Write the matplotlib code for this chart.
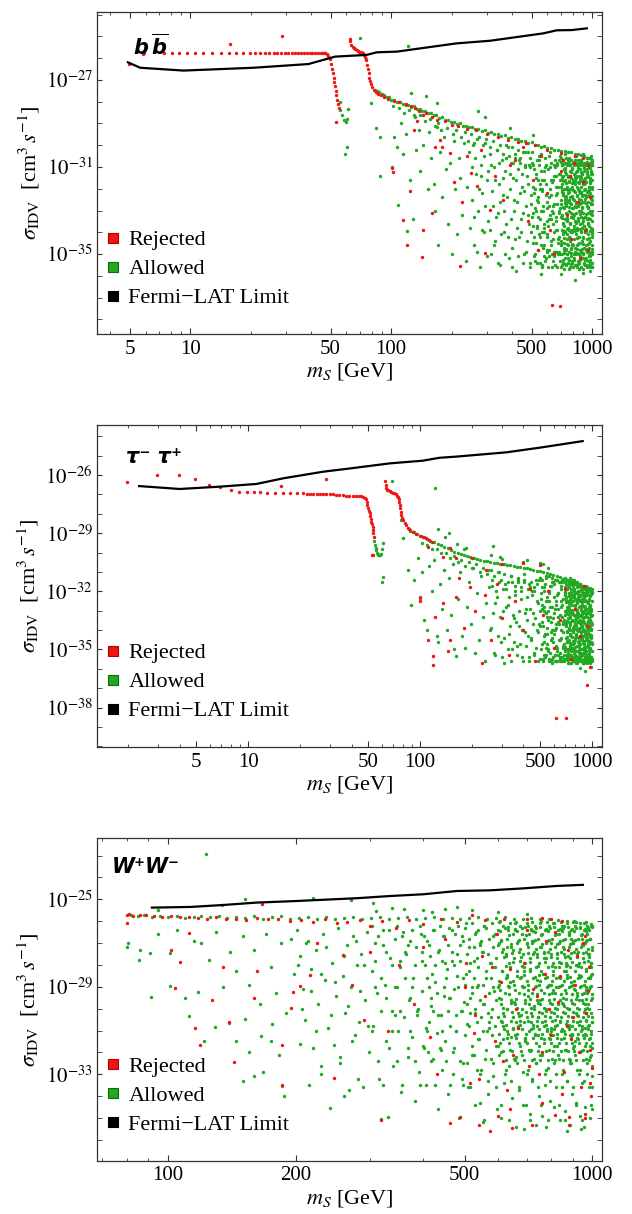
import numpy as np
import matplotlib
matplotlib.use('Agg')
import matplotlib.pyplot as plt
from matplotlib.lines import Line2D
from matplotlib.ticker import NullFormatter

plt.rcParams['font.family'] = ['Liberation Serif', 'DejaVu Serif']
plt.rcParams['mathtext.fontset'] = 'stix'

RED = '#f01414'
GREEN = '#22a822'

# ---------------- b bbar panel (mass in GeV, log10 of sigma v) ----------------
bb_fermi_m = [4.9, 5.64, 9.26, 20.7, 38.8, 52.6, 75.6, 84.9, 106.7, 212, 311, 573, 667, 792, 942]
bb_fermi_e = [-26.19, -26.44, -26.57, -26.44, -26.27, -25.93, -25.85, -25.73, -25.70,
              -25.32, -25.20, -24.86, -24.72, -24.71, -24.63]

bb_rejected = [
    (4.99, -26.28), (5.86, -25.82), (15.8, -25.36), (28.6, -24.97),
    (5.9, -25.75), (7.4, -25.75), (8.1, -25.75), (8.8, -25.75), (9.6, -25.75), (10.6, -25.75),
    (11.6, -25.75), (12.8, -25.75), (14.2, -25.75), (15.6, -25.75), (17.0, -25.75), (18.4, -25.75),
    (19.8, -25.75), (21.0, -25.75), (22.3, -25.75), (23.5, -25.75), (24.8, -25.75), (26.0, -25.75),
    (27.2, -25.75), (28.4, -25.75), (29.6, -25.75), (30.8, -25.75), (32.0, -25.75), (33.2, -25.75),
    (34.4, -25.75), (35.6, -25.75), (36.8, -25.75), (38.0, -25.75), (39.3, -25.75), (40.6, -25.75),
    (42.0, -25.75), (43.4, -25.75), (44.8, -25.75), (46.0, -25.76),
    (47.0, -25.77), (48.0, -25.82), (48.8, -25.92), (49.6, -26.05), (50.3, -26.25), (50.9, -26.5),
    (51.4, -26.7), (51.8, -26.9), (52.1, -27.1), (52.5, -27.3), (52.9, -27.5), (53.4, -27.7),
    (54.0, -27.9), (54.7, -28.1), (55.3, -28.3), (53.4, -28.94),
    (62.5, -25.12), (62.8, -25.22), (63.5, -25.4), (64.5, -25.5), (65.5, -25.55), (66.5, -25.6),
    (67.5, -25.63), (68.5, -25.66), (69.5, -25.7), (70.5, -25.73), (71.5, -25.75), (72.5, -25.78),
    (73.5, -25.85), (74.5, -25.95), (75.3, -26.1), (76.0, -26.3), (76.7, -26.5), (77.3, -26.7),
    (78.0, -26.9), (78.8, -27.05), (79.6, -27.2), (80.6, -27.32), (82.0, -27.45), (84.0, -27.55),
    (86.5, -27.63), (89, -27.7), (92, -27.78), (96, -27.86),
    (103, -27.95), (110, -28.0), (118, -28.1), (125, -28.2), (132, -28.3), (138, -28.45),
    (145, -28.6), (150, -28.5), (160, -28.7), (170, -28.85), (185, -28.9), (200, -29.05),
    (215, -29.1), (240, -29.25), (265, -29.3), (300, -29.5), (340, -29.6), (380, -29.75),
    (430, -29.85), (470, -29.9), (520, -30.0), (600, -30.2), (700, -30.35), (820, -30.5), (900, -30.6),
    (101, -31.05), (102, -31.25), (115, -33.42), (120, -34.57), (124, -32.12), (130, -29.3),
    (135, -28.9), (143, -35.13), (145, -33.88), (159, -33.12), (165, -30.06), (175, -29.75),
    (180, -30.1), (197, -30.36), (205, -31.7), (220, -35.56), (225, -32.6), (240, -30.5),
    (250, -31.28), (267, -31.89), (280, -30.2), (295, -34.95), (311, -32.96), (330, -31.4),
    (362, -32.5), (390, -30.9), (416, -30.67), (455, -30.06), (480, -33.5), (510, -31.6),
    (540, -34.8), (560, -30.5), (600, -32.2), (618, -33.88), (630, -37.32), (690, -37.37),
    (650, -35.0), (700, -31.2), (720, -30.67), (750, -33.2), (777, -31.43), (790, -34.3),
    (810, -30.8), (850, -32.6), (870, -35.2), (900, -31.7), (920, -33.9), (950, -30.9),
    (960, -34.8), (980, -32.4),
]

bb_allowed = [
    (55.6, -28.0), (55.9, -28.4), (57.0, -28.6), (58.5, -28.85), (59.5, -28.95), (60.5, -28.8),
    (61.3, -28.35), (60.3, -30.06), (59.3, -30.4), (70, -25.09), (75, -26.05), (121, -25.43),
    (83, -27.45), (85, -27.52), (87, -27.56), (90, -27.64), (92, -27.68), (95, -27.77), (98, -27.8),
    (100, -27.9), (104, -27.9), (107, -28.0), (111, -28.0), (114, -28.1), (118, -28.14), (122, -28.13),
    (126, -28.23), (130, -28.22), (134, -28.33), (139, -28.33), (143, -28.43), (148, -28.42),
    (153, -28.53), (158, -28.52), (163, -28.63), (168, -28.62), (174, -28.73), (180, -28.72),
    (186, -28.83), (192, -28.82), (199, -28.93), (206, -28.92), (213, -29.03), (220, -29.0),
    (228, -29.1), (236, -29.1), (245, -29.18), (254, -29.17), (263, -29.25), (272, -29.24),
    (282, -29.33), (292, -29.32), (303, -29.43), (315, -29.41), (327, -29.5), (340, -29.5),
    (353, -29.58), (367, -29.55), (382, -29.65), (397, -29.63), (412, -29.73), (428, -29.71),
    (445, -29.8), (462, -29.79), (480, -29.88), (500, -29.87), (520, -29.97), (540, -29.98),
    (560, -30.06), (580, -30.05), (600, -30.12), (625, -30.13), (650, -30.2), (675, -30.2),
    (700, -30.27), (730, -30.26), (760, -30.32), (790, -30.31), (820, -30.39), (850, -30.38),
    (880, -30.47), (910, -30.48), (940, -30.57), (970, -30.58), (990, -30.64),
    (126, -27.6), (149, -27.76), (169, -28.07), (272, -28.45), (295, -28.68), (391, -29.22),
    (510, -29.52), (79.5, -28.07), (84, -29.19), (88, -29.6), (88, -31.43),
    (101, -31.0), (104, -29.6), (107, -30.06), (108, -32.73), (112, -29.0), (115, -30.4),
    (118, -29.5), (120, -33.96), (124, -31.6), (128, -33.4), (130, -28.6), (133, -30.2),
    (137, -29.3), (140, -31.2), (145, -30.0), (152, -32.0), (155, -29.4), (158, -30.6),
    (163, -31.8), (166, -33.0), (169, -29.14), (172, -34.57), (176, -30.3), (180, -32.4),
    (184, -29.6), (188, -31.1), (193, -33.6), (197, -30.8), (201, -35.0), (205, -29.8),
    (209, -32.0), (213, -34.1), (217, -30.6), (221, -31.5), (226, -33.2), (230, -29.9),
    (235, -35.3), (240, -31.9), (244, -30.3), (248, -33.8),
    (252, -32.5), (256, -30.0), (260, -34.6), (264, -31.3), (268, -29.7), (272, -33.0),
    (276, -35.6), (280, -30.9), (285, -32.2), (290, -34.0), (295, -29.9), (300, -31.6),
    (305, -33.5), (310, -30.4), (315, -35.0), (320, -32.8), (325, -31.0), (330, -34.4),
    (335, -30.2), (340, -33.1), (345, -31.8), (350, -35.5), (355, -30.7), (360, -32.3),
    (365, -34.0), (370, -31.2), (375, -33.6), (380, -30.1), (385, -35.2), (390, -32.0),
    (395, -30.8), (400, -34.7), (405, -31.5), (410, -33.0), (415, -30.4), (420, -35.8),
    (425, -32.6), (430, -31.1), (435, -34.2), (440, -30.6), (445, -33.4), (450, -31.9),
    (455, -35.4), (460, -32.1), (465, -30.3), (470, -34.9), (475, -31.4), (480, -33.2),
    (485, -30.9), (490, -35.6), (495, -32.7), (498, -34.0),
    (102, -28.2), (109, -28.3), (116, -28.5), (123, -28.4), (131, -28.7), (140, -28.6),
    (147, -28.9), (156, -28.8), (165, -29.1), (171, -29.0), (178, -29.3), (190, -29.2),
    (203, -29.5), (210, -29.3), (222, -29.6), (232, -29.4), (242, -29.8), (250, -29.5),
    (260, -29.9), (275, -29.6), (288, -30.0), (298, -29.7), (310, -30.1), (322, -29.8),
    (335, -30.2), (348, -30.0), (360, -30.4), (372, -30.0), (386, -30.5), (400, -30.1),
    (414, -30.6), (426, -30.2), (440, -30.8), (452, -30.3), (466, -30.9), (478, -30.3), (490, -31.0),
    (253, -31.0), (258, -33.3), (263, -30.6), (269, -34.9), (274, -32.0), (279, -31.4),
    (284, -33.9), (289, -30.5), (294, -32.8), (299, -35.1), (304, -31.2), (309, -33.9),
    (314, -30.9), (319, -32.1), (324, -34.6), (329, -31.6), (334, -33.3), (339, -35.4),
    (344, -30.8), (349, -32.6), (354, -34.1), (359, -31.5), (364, -33.0), (369, -35.0),
    (374, -30.6), (379, -32.4), (384, -34.2), (389, -31.3), (394, -33.4), (399, -35.6),
    (404, -30.8), (409, -32.5), (414, -34.3), (419, -31.6), (424, -33.8), (429, -35.1),
    (434, -30.7), (439, -32.2), (444, -34.0), (449, -31.3), (454, -33.1), (459, -35.0),
    (464, -31.0), (469, -32.8), (474, -34.4), (479, -31.8), (484, -33.6), (489, -35.4),
    (494, -30.6), (499, -32.3),
    (822, -36.17), (905, -35.87), (560, -35.9), (700, -35.9),
]

bb_allowed_wedge = [
    (505, -30.3), (512, -31.1), (518, -32.0), (523, -32.9), (508, -33.7), (527, -34.5),
    (515, -35.1), (531, -30.7), (536, -31.6), (541, -33.3), (546, -34.1), (538, -32.4),
    (549, -35.4), (556, -30.4), (560, -31.2), (565, -32.1), (569, -33.0), (574, -33.8),
    (578, -34.6), (583, -35.3), (588, -30.9), (592, -31.8), (596, -32.6), (600, -34.2),
    (604, -35.6), (609, -33.4), (615, -30.3), (619, -31.0), (624, -31.6), (628, -32.3),
    (633, -33.0), (638, -33.6), (643, -34.3), (647, -34.9), (652, -35.5), (657, -30.7),
    (661, -31.9), (666, -32.7), (671, -33.9), (676, -35.0), (681, -34.5), (686, -31.3),
    (690, -30.5), (694, -32.9), (699, -33.3), (704, -35.6), (708, -30.9), (713, -31.6),
    (717, -32.2), (722, -33.7), (726, -34.8), (731, -30.4), (736, -31.1), (741, -32.0),
    (745, -32.7), (750, -33.4), (755, -34.1), (760, -35.2), (764, -35.7), (769, -30.6),
    (773, -31.4), (778, -32.4), (783, -33.1), (788, -34.0), (792, -34.6), (797, -35.4),
    (801, -30.8), (806, -31.7), (811, -32.5), (815, -33.2), (820, -33.9), (825, -34.7),
    (829, -35.5), (834, -30.5), (839, -31.2), (843, -31.9), (848, -32.8), (853, -33.5),
    (857, -34.2), (862, -35.0), (866, -35.7), (871, -30.7), (876, -31.5), (880, -32.2),
    (885, -33.0), (890, -33.8), (894, -34.4), (899, -35.2), (903, -30.4), (908, -31.0),
    (913, -31.8), (917, -32.6), (922, -33.3), (927, -34.0), (931, -34.8), (936, -35.5),
    (940, -30.6), (945, -31.3), (950, -32.1), (954, -32.9), (959, -33.6), (964, -34.5),
    (968, -35.1), (972, -35.8), (977, -30.8), (981, -31.6), (986, -32.4), (990, -33.1),
    (995, -33.9), (998, -34.6), (993, -35.4), (985, -30.5), (970, -31.9), (955, -33.4),
    (942, -34.9), (925, -32.3), (910, -33.7), (895, -31.3), (878, -34.9), (860, -32.1),
    (845, -33.8), (828, -31.4), (812, -35.0), (795, -32.9), (780, -30.9), (765, -33.9),
    (748, -35.0), (733, -32.5), (719, -34.0), (702, -31.9), (688, -34.9), (673, -30.9),
    (659, -33.3), (645, -31.4), (630, -35.0), (612, -32.8), (597, -34.8), (580, -31.6),
    (563, -34.0), (545, -30.9), (528, -33.0),
    (999, -30.7), (1000, -31.3), (999, -32.0), (1000, -32.7), (998, -33.5), (1000, -34.2),
    (999, -34.9), (1000, -35.6),
    (502, -30.8), (502, -33.3), (507, -31.9), (507, -34.5), (511, -33.1), (511, -30.9),
    (516, -34.2), (516, -32.2), (521, -35.3), (521, -35.0), (525, -31.3), (525, -31.5),
    (530, -32.5), (530, -33.8), (534, -33.7), (534, -35.4), (539, -34.8), (539, -32.6),
    (544, -30.5), (544, -30.7), (548, -32.0), (548, -34.2), (553, -33.4), (553, -31.8),
    (557, -34.6), (557, -33.0), (562, -35.6), (562, -35.5), (567, -31.6), (567, -32.0),
    (571, -32.8), (571, -34.7), (576, -34.0), (576, -31.2), (580, -35.1), (580, -33.6),
    (585, -31.0), (585, -30.6), (590, -32.3), (590, -35.2), (594, -33.5), (594, -32.9),
    (599, -34.9), (599, -34.1), (604, -33.7), (604, -31.1), (608, -34.8), (608, -32.4),
    (613, -30.5), (613, -35.1), (617, -32.0), (617, -33.2), (622, -33.4), (622, -30.8),
    (627, -34.6), (627, -34.4), (631, -35.6), (631, -31.7), (636, -31.6), (636, -33.1),
    (640, -32.8), (640, -35.3), (645, -34.0), (645, -30.9), (650, -35.1), (650, -32.7),
    (654, -31.0), (654, -34.9), (659, -32.3), (659, -31.4), (663, -33.5), (663, -33.9),
    (668, -34.9), (668, -35.6), (673, -30.8), (673, -32.2), (677, -31.9), (677, -34.3),
    (682, -33.1), (682, -30.7), (686, -34.2), (686, -33.0), (691, -35.3), (691, -35.0),
    (696, -31.3), (696, -31.6), (700, -32.5), (700, -34.6),
    (704, -30.6), (704, -32.7), (704, -34.4), (708, -31.8), (708, -33.9), (708, -35.5),
    (712, -30.9), (712, -33.2), (712, -35.0), (716, -32.3), (716, -34.1), (716, -31.4),
    (720, -33.6), (720, -35.4), (720, -30.7), (724, -31.1), (724, -32.9), (724, -34.7),
    (729, -32.0), (729, -34.5), (729, -35.7), (733, -30.8), (733, -33.4), (733, -31.6),
    (737, -34.0), (737, -32.4), (737, -35.2), (741, -31.3), (741, -33.1), (741, -34.8),
    (746, -30.6), (746, -32.8), (746, -35.5), (750, -31.9), (750, -34.3), (750, -33.5),
    (754, -32.6), (754, -30.9), (754, -35.0), (759, -31.4), (759, -33.8), (759, -34.6),
    (763, -30.7), (763, -32.2), (763, -35.4), (768, -33.0), (768, -34.9), (768, -31.7),
    (772, -32.5), (772, -30.8), (772, -34.2), (777, -31.2), (777, -33.6), (777, -35.6),
    (781, -34.4), (781, -32.0), (781, -30.9), (786, -33.3), (786, -35.1), (786, -31.5),
    (790, -30.7), (790, -32.7), (790, -34.7), (795, -31.9), (795, -33.9), (795, -35.3),
    (799, -32.4), (799, -34.0), (799, -31.1), (804, -30.8), (804, -33.2), (804, -35.6),
    (808, -31.6), (808, -34.6), (808, -32.9), (813, -33.7), (813, -35.2), (813, -30.9),
    (818, -32.1), (818, -31.3), (818, -34.3), (822, -30.7), (822, -33.5), (822, -35.5),
    (827, -31.8), (827, -32.8), (827, -34.9), (832, -33.1), (832, -35.0), (832, -30.8),
    (836, -32.6), (836, -31.5), (836, -34.1), (841, -30.9), (841, -33.9), (841, -35.6),
    (846, -31.2), (846, -32.3), (846, -34.6), (850, -33.4), (850, -35.3), (850, -30.7),
    (855, -32.0), (855, -31.7), (855, -34.2), (860, -30.8), (860, -33.0), (860, -35.4),
    (864, -31.4), (864, -34.5), (864, -32.7), (869, -33.6), (869, -35.1), (869, -30.9),
    (874, -32.2), (874, -31.1), (874, -34.8), (879, -30.7), (879, -33.3), (879, -35.6),
    (883, -31.9), (883, -32.5), (883, -34.0), (888, -33.8), (888, -35.2), (888, -31.3),
    (893, -32.9), (893, -30.8), (893, -34.5), (898, -31.6), (898, -33.5), (898, -35.7),
    (902, -30.9), (902, -32.3), (902, -34.2), (907, -33.1), (907, -35.0), (907, -31.8),
    (912, -32.6), (912, -30.8), (912, -34.7), (917, -31.2), (917, -33.7), (917, -35.4),
    (922, -30.9), (922, -32.0), (922, -34.0), (927, -33.3), (927, -35.5), (927, -31.5),
    (931, -32.4), (931, -30.8), (931, -34.6), (936, -31.7), (936, -33.9), (936, -35.2),
    (941, -30.9), (941, -32.8), (941, -34.3), (946, -33.4), (946, -35.6), (946, -31.1),
    (950, -32.1), (950, -30.9), (950, -34.9), (955, -31.4), (955, -33.1), (955, -35.3),
    (960, -30.9), (960, -32.6), (960, -34.1), (964, -33.7), (964, -35.5), (964, -31.9),
    (969, -32.3), (969, -31.0), (969, -34.7), (973, -31.5), (973, -33.4), (973, -35.6),
    (978, -30.8), (978, -32.2), (978, -34.4), (982, -33.0), (982, -35.1), (982, -31.7),
    (987, -32.7), (987, -31.2), (987, -34.9), (991, -31.3), (991, -33.8), (991, -35.4),
    (995, -30.9), (995, -32.5), (995, -34.1), (999, -33.2), (999, -35.6), (999, -31.6),
    (702, -30.75), (702, -34.55), (706, -31.45), (706, -33.35), (710, -32.15), (710, -32.05),
    (714, -32.85), (714, -30.85), (718, -33.55), (718, -35.25), (722, -34.25), (722, -31.65),
    (727, -34.95), (727, -33.95), (731, -35.45), (731, -32.65), (735, -31.05), (735, -31.25),
    (739, -31.75), (739, -34.75), (744, -32.45), (744, -32.35), (748, -33.15), (748, -34.55),
    (752, -33.85), (752, -33.35), (757, -30.75), (757, -32.05), (761, -31.45), (761, -30.85),
    (766, -32.15), (766, -35.25), (770, -32.85), (770, -31.65), (775, -33.55), (775, -33.95),
    (779, -34.25), (779, -32.65), (784, -34.95), (784, -31.25), (788, -35.45), (788, -34.75),
    (793, -31.05), (793, -32.35), (797, -31.75), (797, -34.55), (802, -32.45), (802, -33.35),
    (806, -33.15), (806, -32.05), (811, -33.85), (811, -30.85), (816, -30.75), (816, -35.25),
    (820, -31.45), (820, -31.65), (825, -32.15), (825, -33.95), (830, -32.85), (830, -32.65),
    (834, -33.55), (834, -31.25), (839, -34.25), (839, -34.75), (844, -34.95), (844, -32.35),
    (848, -35.45), (848, -34.55), (853, -31.05), (853, -33.35), (858, -31.75), (858, -32.05),
    (862, -32.45), (862, -30.85), (867, -33.15), (867, -35.25), (872, -33.85), (872, -31.65),
    (877, -30.75), (877, -33.95), (881, -31.45), (881, -32.65), (886, -32.15), (886, -31.25),
    (891, -32.85), (891, -34.75), (896, -33.55), (896, -32.35), (900, -34.25), (900, -34.55),
    (905, -34.95), (905, -33.35), (910, -35.45), (910, -32.05), (915, -31.05), (915, -30.85),
    (920, -31.75), (920, -35.25), (924, -32.45), (924, -31.65), (929, -33.15), (929, -33.95),
    (934, -33.85), (934, -32.65), (939, -30.75), (939, -31.25), (944, -31.45), (944, -34.75),
    (949, -32.15), (949, -32.35), (953, -32.85), (953, -34.55), (958, -33.55), (958, -33.35),
    (963, -34.25), (963, -32.05), (968, -34.95), (968, -30.85), (973, -35.45), (973, -35.25),
    (977, -31.05), (977, -31.65), (982, -31.75), (982, -33.95), (987, -32.45), (987, -32.65),
    (992, -33.15), (992, -31.25), (996, -33.85), (996, -34.75), (1000, -30.75), (1000, -32.35),
    (1000, -33.0), (1000, -34.0), (1000, -35.0), (998, -31.9), (999, -30.9), (1000, -35.4),
]

# ---------------- tau tau panel ----------------
tt_fermi_m = [2.32, 4.0, 6.84, 11.2, 16.0, 27.3, 42.6, 66.6, 104, 130, 163, 318, 497, 887]
tt_fermi_e = [-26.57, -26.72, -26.60, -26.46, -26.17, -25.83, -25.62, -25.40, -25.26,
              -25.11, -25.05, -24.83, -24.59, -24.25]

tt_rejected = [
    (1.97, -26.34), (2.96, -26.0), (3.97, -26.0), (4.92, -26.21), (5.9, -26.53), (6.9, -26.64),
    (7.9, -26.77), (8.9, -26.86), (9.8, -26.88), (10.8, -26.9), (11.8, -26.9), (12.9, -26.91),
    (14.4, -26.92), (15.6, -26.57), (16.0, -26.94), (17.5, -26.95), (19.2, -26.95), (21.0, -26.95),
    (22.0, -26.96), (23.0, -26.96), (24.0, -26.96), (25.1, -26.97), (26.2, -26.97), (27.3, -26.97),
    (28.5, -26.22), (28.5, -26.98), (29.8, -26.98), (31.2, -27.0), (32.6, -27.03), (34.0, -27.04),
    (35.6, -27.05), (37.2, -27.06), (38.9, -27.07), (40.7, -27.08), (42.6, -27.08), (44.0, -27.09),
    (45.6, -27.1), (46.8, -27.12), (47.7, -27.16), (48.4, -27.25), (49.0, -27.4), (49.5, -27.55),
    (50.0, -27.7), (50.6, -27.85), (51.0, -27.98), (51.4, -28.12), (51.8, -28.25), (52.2, -28.4),
    (52.6, -28.55), (53.0, -28.7), (53.3, -28.84), (53.6, -29.0), (53.8, -29.18), (52.9, -30.12),
    (53.5, -30.1),
    (62.8, -26.31), (63.2, -26.5), (63.6, -26.69), (64.5, -26.75), (65.5, -26.78), (66.6, -26.81),
    (68.0, -26.86), (69.5, -26.91), (71.0, -26.95), (72.8, -26.98), (73.6, -27.08), (74.4, -27.15),
    (75.2, -27.26), (76.0, -27.37), (76.5, -27.55), (77.0, -27.72), (77.5, -27.9), (78.0, -28.06),
    (78.8, -28.2), (79.6, -28.32), (81.4, -28.49), (83, -28.6), (85, -28.75), (88, -28.85),
    (90.8, -28.92), (95, -29.03), (99.5, -29.14), (104, -29.2), (108, -29.26), (113, -29.35),
    (118, -29.44), (112, -29.7), (137, -30.21), (163, -30.3), (243, -30.9), (397, -30.55),
    (497, -30.64), (150, -29.75), (200, -30.3), (300, -30.6),
    (100, -32.36), (99.5, -32.5), (111, -34.5), (120, -35.36), (120, -35.8), (122, -33.3),
    (137, -32.6), (145, -35.1), (150, -34.5), (163, -32.27), (170, -31.3), (180, -33.9),
    (195, -31.8), (210, -33.0), (229, -35.7), (240, -32.2), (260, -34.5), (280, -31.6),
    (300, -33.4), (330, -35.3), (360, -32.5), (400, -34.0), (440, -31.9), (470, -35.6),
    (520, -33.2), (560, -32.0), (600, -34.9), (650, -33.5), (700, -31.9), (760, -35.5),
    (800, -32.9), (850, -34.3), (900, -31.7), (950, -33.8), (621, -38.54), (712, -38.54),
    (945, -36.82), (980, -35.9),
]

tt_allowed = [
    (54.3, -29.4), (54.8, -29.6), (55.3, -29.75), (55.7, -29.87), (56.3, -30.0), (56.9, -30.12),
    (57.8, -30.15), (58.6, -30.1), (59.5, -30.07), (60.3, -29.8), (60.9, -29.52), (60.4, -31.5),
    (61.4, -31.24), (57.5, -30.14), (68.9, -26.3), (122, -26.65), (79.6, -29.26), (78, -28.3),
    (86, -28.8), (88, -28.9), (92, -28.95), (96, -29.05), (101, -29.15), (105, -29.2),
    (110, -29.3), (115, -29.38), (121, -29.45), (127, -29.55), (133, -29.62), (139, -29.7),
    (145, -29.78), (152, -29.85), (159, -29.95), (166, -30.0), (173, -30.05), (181, -30.12),
    (189, -30.18), (197, -30.22), (206, -30.28), (215, -30.32), (225, -30.38), (235, -30.42),
    (246, -30.45), (257, -30.48), (269, -30.52), (281, -30.55), (294, -30.58), (307, -30.6),
    (321, -30.62), (336, -30.65), (351, -30.68), (367, -30.72), (384, -30.75), (401, -30.78),
    (419, -30.82), (438, -30.86), (458, -30.9), (479, -30.93), (500, -30.97), (523, -31.02),
    (547, -31.07), (572, -31.12), (598, -31.17), (625, -31.22), (653, -31.28), (683, -31.34),
    (714, -31.4), (746, -31.45), (780, -31.5), (815, -31.57), (852, -31.63), (890, -31.7),
    (930, -31.75), (972, -31.82),
    (128, -28.8), (147, -29.0), (185, -29.78), (265, -29.66), (293, -30.21), (397, -30.47),
    (497, -30.55), (140, -29.2), (180, -29.8), (260, -30.1), (300, -30.35), (420, -30.4),
    (520, -30.6), (560, -30.8), (165, -29.55),
    (85, -30.9), (89, -32.7), (93, -31.4), (97, -30.3), (99.5, -32.27), (103, -31.0),
    (106, -33.5), (110, -33.99), (113, -30.7), (117, -32.0), (121, -30.4), (125, -34.3),
    (128, -34.6), (131, -31.6), (135, -32.9), (139, -30.9), (143, -34.0), (147, -31.3),
    (151, -33.2), (155, -30.6), (159, -35.0), (163, -35.36), (167, -32.4), (171, -31.0),
    (176, -34.3), (183, -34.9), (188, -32.8), (193, -31.5), (198, -33.7), (203, -30.8),
    (208, -35.2), (214, -32.1), (220, -34.5), (226, -31.2), (232, -33.3), (238, -35.6),
    (244, -32.6), (250, -30.9),
    (256, -34.0), (262, -31.7), (268, -33.1), (275, -35.3), (282, -32.3), (289, -31.0),
    (296, -34.6), (303, -33.0), (310, -35.7), (317, -31.9), (324, -32.7), (331, -34.2),
    (338, -31.2), (345, -35.0), (352, -33.4), (359, -32.0), (366, -34.8), (373, -31.5),
    (380, -33.8), (387, -32.4), (394, -35.4), (401, -31.1), (408, -34.1), (415, -32.9),
    (422, -33.5), (429, -35.6), (436, -31.8), (443, -34.4), (450, -32.2), (457, -33.1),
    (464, -35.2), (471, -31.4), (478, -34.0), (485, -32.6), (492, -33.7), (499, -35.5),
    (103, -29.5), (110, -29.6), (118, -29.8), (125, -29.8), (133, -30.0), (141, -30.0),
    (149, -30.3), (157, -30.2), (166, -30.5), (174, -30.4), (183, -30.7), (192, -30.5),
    (202, -30.8), (212, -30.6), (223, -31.0), (234, -30.8), (246, -31.1), (258, -30.9),
    (270, -31.2), (283, -31.0), (296, -31.4), (310, -31.1), (325, -31.5), (340, -31.2),
    (356, -31.7), (372, -31.3), (389, -31.8), (406, -31.4), (424, -31.9), (443, -31.5),
    (462, -32.0), (482, -31.6),
    (253, -31.8), (258, -33.9), (263, -31.4), (269, -35.2), (274, -32.6), (279, -32.0),
    (284, -34.3), (289, -31.5), (294, -33.3), (299, -35.4), (304, -31.9), (309, -34.4),
    (314, -31.6), (319, -32.8), (324, -35.0), (329, -32.3), (334, -33.8), (339, -35.6),
    (344, -31.5), (349, -33.2), (354, -34.6), (359, -32.2), (364, -33.6), (369, -35.3),
    (374, -31.4), (379, -33.0), (384, -34.7), (389, -32.0), (394, -34.0), (399, -35.6),
    (404, -31.5), (409, -33.1), (414, -34.8), (419, -32.3), (424, -34.3), (429, -35.4),
    (434, -31.6), (439, -32.9), (444, -34.5), (449, -32.0), (454, -33.7), (459, -35.3),
    (464, -31.8), (469, -33.4), (474, -34.9), (479, -32.5), (484, -34.1), (489, -35.6),
    (494, -31.4), (499, -33.0),
    (910, -36.1), (850, -35.95),
]

tt_allowed_wedge = [
    (503, -31.3), (509, -32.1), (514, -32.9), (520, -33.8), (525, -34.6), (531, -35.3),
    (536, -31.6), (541, -32.5), (547, -33.3), (552, -34.2), (557, -35.0), (563, -31.2),
    (568, -32.0), (574, -32.8), (579, -33.6), (585, -34.4), (590, -35.5), (596, -31.5),
    (601, -32.3), (607, -33.1), (612, -34.0), (618, -34.8), (623, -35.6), (629, -31.4),
    (634, -32.1), (640, -32.9), (645, -33.7), (651, -34.5), (656, -35.2), (662, -31.7),
    (667, -32.5), (673, -33.3), (678, -34.1), (684, -34.9), (689, -35.6), (695, -31.5),
    (700, -32.2), (706, -33.0), (711, -33.8), (717, -34.6), (722, -35.3), (728, -31.8),
    (733, -32.6), (739, -33.4), (744, -34.2), (750, -35.0), (755, -35.7), (761, -31.6),
    (766, -32.3), (772, -33.1), (777, -33.9), (783, -34.7), (788, -35.4), (794, -31.9),
    (799, -32.7), (805, -33.5), (810, -34.3), (816, -35.1), (821, -35.7), (827, -31.7),
    (832, -32.4), (838, -33.2), (843, -34.0), (849, -34.8), (854, -35.5), (860, -32.0),
    (865, -32.8), (871, -33.6), (876, -34.4), (882, -35.2), (887, -35.7), (893, -31.9),
    (898, -32.5), (904, -33.3), (909, -34.1), (915, -34.9), (920, -35.6), (926, -32.1),
    (931, -32.9), (937, -33.7), (942, -34.5), (948, -35.3), (953, -32.0), (958, -32.6),
    (963, -33.4), (968, -34.2), (973, -35.0), (978, -35.7), (983, -32.2), (988, -32.9),
    (992, -33.6), (996, -34.4), (999, -35.1), (1000, -31.9), (998, -32.5), (1000, -33.2),
    (997, -34.0), (1000, -34.7), (999, -35.5),
    (515, -31.8), (545, -34.9), (575, -31.7), (610, -35.3), (640, -33.3), (670, -31.4),
    (700, -35.0), (735, -33.0), (765, -34.9), (790, -32.3), (820, -33.9), (850, -31.6),
    (880, -33.0), (910, -35.2), (940, -31.8), (965, -34.7), (990, -35.9), (970, -32.9),
    (925, -34.2), (885, -32.2), (845, -35.2), (805, -32.9), (760, -35.3), (715, -31.9),
    (680, -33.7), (650, -35.5), (620, -32.7), (590, -34.0), (560, -33.0), (530, -32.8),
    (502, -31.3), (502, -33.8), (507, -32.4), (507, -35.0), (511, -33.6), (511, -31.4),
    (516, -34.7), (516, -32.7), (521, -35.6), (521, -35.5), (525, -31.8), (525, -32.0),
    (530, -33.0), (530, -34.3), (534, -34.2), (534, -35.4), (539, -35.3), (539, -33.1),
    (544, -31.2), (544, -31.3), (548, -32.5), (548, -34.7), (553, -33.9), (553, -32.3),
    (557, -35.1), (557, -33.5), (562, -35.6), (562, -35.5), (567, -32.1), (567, -32.5),
    (571, -33.3), (571, -35.2), (576, -34.5), (576, -31.7), (580, -35.6), (580, -34.1),
    (585, -31.5), (585, -31.3), (590, -32.8), (590, -35.7), (594, -34.0), (594, -33.4),
    (599, -35.4), (599, -34.6), (604, -34.2), (604, -31.6), (608, -35.3), (608, -32.9),
    (613, -31.4), (613, -35.6), (617, -32.5), (617, -33.7), (622, -33.9), (622, -31.4),
    (627, -35.1), (627, -34.9), (631, -35.6), (631, -32.2), (636, -32.1), (636, -33.6),
    (640, -33.3), (640, -35.3), (645, -34.5), (645, -31.5), (650, -35.6), (650, -33.2),
    (654, -31.5), (654, -35.4), (659, -32.8), (659, -31.9), (663, -34.0), (663, -34.4),
    (668, -35.4), (668, -35.6), (673, -31.5), (673, -32.7), (677, -32.4), (677, -34.8),
    (682, -33.6), (682, -31.4), (686, -34.7), (686, -33.5), (691, -35.3), (691, -35.5),
    (696, -31.8), (696, -32.1), (700, -33.0), (700, -35.1),
    (704, -31.3), (704, -33.2), (704, -34.9), (708, -32.3), (708, -34.4), (708, -35.5),
    (712, -31.6), (712, -33.7), (712, -35.5), (716, -32.8), (716, -34.6), (716, -31.9),
    (720, -34.1), (720, -35.4), (720, -31.4), (724, -31.6), (724, -33.4), (724, -35.2),
    (729, -32.5), (729, -35.0), (729, -35.7), (733, -31.5), (733, -33.9), (733, -32.1),
    (737, -34.5), (737, -32.9), (737, -35.7), (741, -31.8), (741, -33.6), (741, -35.3),
    (746, -31.3), (746, -33.3), (746, -35.5), (750, -32.4), (750, -34.8), (750, -34.0),
    (754, -33.1), (754, -31.6), (754, -35.5), (759, -31.9), (759, -34.3), (759, -35.1),
    (763, -31.4), (763, -32.7), (763, -35.4), (768, -33.5), (768, -35.4), (768, -32.2),
    (772, -33.0), (772, -31.5), (772, -34.7), (777, -31.7), (777, -34.1), (777, -35.6),
    (781, -34.9), (781, -32.5), (781, -31.6), (786, -33.8), (786, -35.6), (786, -32.0),
    (790, -31.4), (790, -33.2), (790, -35.2), (795, -32.4), (795, -34.4), (795, -35.3),
    (799, -32.9), (799, -34.5), (799, -31.6), (804, -31.5), (804, -33.7), (804, -35.6),
    (808, -32.1), (808, -35.1), (808, -33.4), (813, -34.2), (813, -35.7), (813, -31.6),
    (818, -32.6), (818, -31.8), (818, -34.8), (822, -31.5), (822, -34.0), (822, -35.5),
    (827, -32.3), (827, -33.3), (827, -35.4), (832, -33.6), (832, -35.5), (832, -31.6),
    (836, -33.1), (836, -32.0), (836, -34.6), (841, -31.7), (841, -34.4), (841, -35.6),
    (846, -31.7), (846, -32.8), (846, -35.1), (850, -33.9), (850, -35.3), (850, -31.7),
    (855, -32.5), (855, -32.2), (855, -34.7), (860, -31.7), (860, -33.5), (860, -35.4),
    (864, -31.9), (864, -35.0), (864, -33.2), (869, -34.1), (869, -35.6), (869, -31.7),
    (874, -32.7), (874, -31.8), (874, -35.3), (879, -31.8), (879, -33.8), (879, -35.6),
    (883, -32.4), (883, -33.0), (883, -34.5), (888, -34.3), (888, -35.7), (888, -31.8),
    (893, -33.4), (893, -31.8), (893, -35.0), (898, -32.1), (898, -34.0), (898, -35.7),
    (902, -31.8), (902, -32.8), (902, -34.7), (907, -33.6), (907, -35.5), (907, -32.3),
    (912, -33.1), (912, -31.8), (912, -35.2), (917, -31.9), (917, -34.2), (917, -35.4),
    (922, -31.8), (922, -32.5), (922, -34.5), (927, -33.8), (927, -35.5), (927, -32.0),
    (931, -32.9), (931, -31.9), (931, -35.1), (936, -32.2), (936, -34.4), (936, -35.7),
    (941, -31.9), (941, -33.3), (941, -34.8), (946, -33.9), (946, -35.6), (946, -31.9),
    (950, -32.6), (950, -31.9), (950, -35.4), (955, -32.0), (955, -33.6), (955, -35.3),
    (960, -32.0), (960, -33.1), (960, -34.6), (964, -34.2), (964, -35.5), (964, -32.4),
    (969, -32.8), (969, -32.0), (969, -35.2), (973, -32.0), (973, -33.9), (973, -35.6),
    (978, -32.0), (978, -32.7), (978, -34.9), (982, -33.5), (982, -35.6), (982, -32.2),
    (987, -33.2), (987, -32.0), (987, -35.4), (991, -32.0), (991, -34.3), (991, -35.4),
    (995, -32.0), (995, -33.0), (995, -34.6), (999, -33.7), (999, -35.6), (999, -32.1),
    (702, -32.05), (702, -34.85), (706, -32.55), (706, -33.65), (710, -33.05), (710, -32.45),
    (714, -33.55), (714, -35.35), (718, -34.05), (718, -32.95), (722, -34.55), (722, -34.35),
    (727, -35.05), (727, -33.15), (731, -35.45), (731, -35.55), (735, -32.25), (735, -32.15),
    (739, -32.75), (739, -33.95), (744, -33.25), (744, -34.65), (748, -33.75), (748, -34.85),
    (752, -34.25), (752, -33.65), (757, -32.05), (757, -32.45), (761, -32.55), (761, -35.35),
    (766, -33.05), (766, -32.95), (770, -33.55), (770, -34.35), (775, -34.05), (775, -33.15),
    (779, -34.55), (779, -35.55), (784, -35.05), (784, -32.15), (788, -35.45), (788, -33.95),
    (793, -32.25), (793, -34.65), (797, -32.75), (797, -34.85), (802, -33.25), (802, -33.65),
    (806, -33.75), (806, -32.45), (811, -34.25), (811, -35.35), (816, -32.05), (816, -32.95),
    (820, -32.55), (820, -34.35), (825, -33.05), (825, -33.15), (830, -33.55), (830, -35.55),
    (834, -34.05), (834, -32.15), (839, -34.55), (839, -33.95), (844, -35.05), (844, -34.65),
    (848, -35.45), (848, -34.85), (853, -32.25), (853, -33.65), (858, -32.75), (858, -32.45),
    (862, -33.25), (862, -35.35), (867, -33.75), (867, -32.95), (872, -34.25), (872, -34.35),
    (877, -32.05), (877, -33.15), (881, -32.55), (881, -35.55), (886, -33.05), (886, -32.15),
    (891, -33.55), (891, -33.95), (896, -34.05), (896, -34.65), (900, -34.55), (900, -34.85),
    (905, -35.05), (905, -33.65), (910, -35.45), (910, -32.45), (915, -32.25), (915, -35.35),
    (920, -32.75), (920, -32.95), (924, -33.25), (924, -34.35), (929, -33.75), (929, -33.15),
    (934, -34.25), (934, -35.55), (939, -32.05), (939, -32.15), (944, -32.55), (944, -33.95),
    (949, -33.05), (949, -34.65), (953, -33.55), (953, -34.85), (958, -34.05), (958, -33.65),
    (963, -34.55), (963, -32.45), (968, -35.05), (968, -35.35), (973, -35.45), (973, -32.95),
    (977, -32.25), (977, -34.35), (982, -32.75), (982, -33.15), (987, -33.25), (987, -35.55),
    (992, -33.75), (992, -32.15), (996, -34.25), (996, -33.95), (1000, -32.05), (1000, -34.65),
]

# ---------------- W+ W- panel ----------------
ww_fermi_m = [91.7, 113, 135, 162, 200, 279, 334, 400, 480, 574, 688, 824, 950]
ww_fermi_e = [-25.38, -25.35, -25.26, -25.15, -25.08, -24.95, -24.85, -24.77, -24.62,
              -24.59, -24.50, -24.39, -24.34]

ww_rejected = [
    (80, -25.72), (81, -25.68), (83, -25.75), (86, -25.7), (89, -25.73), (93, -25.78),
    (97, -25.8), (102, -25.76), (107, -25.83), (112, -25.8), (118, -25.86), (124, -25.9),
    (130, -25.82), (137, -25.9), (145, -25.88), (153, -25.95), (162, -25.85), (172, -25.92),
    (182, -25.88), (194, -26.0), (206, -25.95), (220, -26.05), (235, -25.9), (250, -26.1),
    (265, -26.02), (283, -25.95), (300, -26.2), (320, -26.0), (345, -26.3), (370, -25.95),
    (400, -26.15), (440, -25.9), (480, -26.05), (520, -25.7), (560, -25.95), (620, -25.9),
    (700, -25.88), (760, -25.85), (800, -25.9), (850, -26.0), (167, -25.21), (80, -26.1),
    (102, -27.32), (104, -29.07), (107, -27.85), (112, -26.55), (116, -30.9), (119, -31.66),
    (127, -29.6), (135, -28.08), (139, -30.6), (143, -32.42), (160, -29.53), (162, -28.3),
    (186, -31.66), (186, -33.49), (195, -29.98), (197, -29.22), (205, -28.95), (216, -28.46),
    (225, -27.0), (246, -33.19), (259, -27.55), (272, -28.92), (290, -30.5), (300, -27.4),
    (318, -35.09), (330, -31.0), (350, -28.0), (380, -29.8), (400, -27.2), (415, -31.28),
    (430, -33.0), (450, -26.8), (463, -35.24), (487, -34.94), (500, -29.0), (514, -33.41),
    (530, -30.3), (550, -27.6), (574, -35.6), (590, -31.5), (610, -28.8), (630, -33.7),
    (646, -35.45), (660, -30.0), (690, -27.9), (710, -32.6), (740, -29.4), (760, -34.3),
    (780, -26.9), (800, -31.2), (818, -34.86), (840, -28.5), (860, -32.9), (879, -34.94),
    (900, -30.4), (920, -27.6), (940, -33.6), (962, -35.0), (975, -29.2), (990, -31.9),
    (995, -34.0), (960, -26.7), (870, -30.8), (720, -35.3), (650, -32.1), (580, -28.1),
    (540, -33.2),
    (505, -27.9), (525, -31.1), (560, -29.4), (595, -26.6), (615, -32.4), (640, -28.2),
    (670, -30.9), (700, -26.4), (725, -29.1), (750, -33.0), (775, -28.4), (790, -30.0),
    (815, -26.5), (830, -29.7), (850, -33.9), (875, -27.3), (890, -31.4), (910, -28.9),
    (930, -32.0), (950, -27.0), (965, -30.2), (985, -28.1), (997, -32.7), (640, -34.6),
    (760, -32.0), (880, -35.3), (960, -34.8), (540, -35.3), (600, -34.9), (990, -33.4),
]

ww_allowed = [
    (82, -25.70), (85, -25.75), (88, -25.72), (92, -25.8), (96, -25.76), (100, -25.82),
    (105, -25.78), (110, -25.85), (115, -25.8), (120, -25.75), (126, -25.83), (132, -25.78),
    (138, -25.86), (145, -25.8), (152, -25.85), (160, -25.78), (168, -25.88), (176, -25.82),
    (185, -25.78), (194, -25.9), (204, -25.84), (214, -25.8), (225, -25.88), (236, -25.83),
    (248, -25.9), (260, -25.85), (273, -25.82), (287, -25.9), (301, -25.86), (316, -25.8),
    (332, -25.92), (349, -25.86), (366, -25.82), (384, -25.9), (403, -25.85), (423, -25.8),
    (444, -25.88), (466, -25.84), (489, -25.9), (513, -25.86), (538, -25.83), (565, -25.9),
    (593, -25.87), (622, -25.83), (653, -25.9), (685, -25.88), (719, -25.86), (755, -25.92),
    (792, -25.9), (831, -25.95), (872, -26.0), (915, -26.05), (960, -26.1), (995, -26.15),
    (123, -22.94), (152, -24.98), (220, -24.92), (270, -25.03), (305, -25.18), (134, -25.26),
    (337, -25.38), (95, -25.5), (400, -25.5), (450, -25.45), (480, -25.35), (520, -25.5),
    (600, -25.6), (700, -25.65), (310, -25.55), (360, -25.45), (420, -25.6),
    (80.6, -26.98), (80, -27.2), (86, -27.32), (85.3, -27.77), (91, -27.47), (91.2, -29.45),
    (101, -27.44), (101, -28.96), (110, -29.53), (112, -30.33), (118, -29.25), (122, -31.5),
    (125, -27.77), (129, -30.84), (139, -30.67), (150, -33.3), (152, -30.47), (160, -33.08),
    (166, -31.23), (168, -32.9), (176, -30.7), (183, -32.1), (186, -33.52), (95, -26.6),
    (105, -26.4), (115, -26.9), (120, -27.0), (130, -26.5), (140, -27.4), (145, -28.3),
    (150, -26.7), (155, -28.9), (160, -27.3), (165, -29.8), (170, -26.6), (175, -28.1),
    (180, -29.3), (185, -27.0), (190, -30.2), (195, -26.8), (198, -28.4), (135, -29.0),
    (145, -31.5), (155, -32.0), (175, -31.5), (188, -34.0),
    (202, -26.4), (205, -27.6), (208, -29.1), (211, -30.5), (214, -26.9), (217, -28.2),
    (220, -31.8), (223, -27.3), (226, -29.8), (229, -33.0), (232, -26.6), (235, -28.7),
    (238, -30.9), (241, -34.56), (244, -27.9), (246, -31.66), (249, -29.4), (252, -26.3),
    (255, -32.5), (258, -28.5), (261, -30.2), (264, -27.1), (267, -33.7), (270, -29.0),
    (273, -26.7), (276, -31.2), (279, -28.0), (282, -30.6), (285, -27.5), (289, -33.57),
    (292, -29.6), (295, -26.5), (298, -32.0),
    (203, -28.0), (207, -30.0), (212, -27.0), (218, -29.2), (224, -31.0), (230, -28.4),
    (236, -27.2), (242, -30.3), (248, -28.8), (254, -32.2), (260, -27.6), (266, -29.9),
    (272, -31.5), (278, -26.9), (284, -29.2), (290, -28.0), (296, -30.8), (260, -34.0),
    (280, -33.2), (215, -33.5), (230, -32.6), (205, -31.6),
    (302, -28.3), (305, -30.8), (308, -27.0), (311, -29.3), (314, -33.2), (318, -35.06),
    (321, -26.4), (324, -28.9), (327, -31.5), (331, -34.94), (334, -27.7), (337, -30.1),
    (340, -32.6), (343, -26.8), (346, -29.0), (349, -31.0), (352, -28.1), (355, -33.8),
    (358, -26.5), (361, -30.4), (364, -27.5), (367, -32.2), (370, -29.6), (373, -26.9),
    (376, -31.3), (379, -28.6), (382, -34.2), (385, -27.2), (388, -30.0), (391, -32.9),
    (394, -26.6), (397, -29.2), (400, -31.7), (403, -28.0), (406, -33.5), (409, -26.9),
    (412, -30.6), (415, -27.6), (418, -29.9), (421, -32.3), (424, -26.4), (427, -28.8),
    (430, -31.1), (433, -34.6), (436, -27.3), (439, -30.3), (442, -32.8), (445, -26.7),
    (448, -29.4), (451, -31.5), (454, -28.2), (457, -33.9), (460, -26.3), (463, -30.8),
    (466, -27.8), (469, -32.0), (472, -29.1), (475, -26.6), (478, -31.0), (481, -28.5),
    (484, -35.0), (487, -27.1), (490, -30.1), (493, -33.2), (496, -26.9), (499, -29.7),
    (405, -30.9), (420, -28.4), (440, -31.9), (460, -29.5), (480, -27.5), (495, -32.5),
    (470, -33.0), (450, -27.9), (430, -29.3), (410, -32.0),
    (302, -26.2), (302, -31.0), (307, -27.8), (307, -29.0), (312, -26.7), (312, -32.4),
    (317, -28.6), (317, -30.1), (322, -27.1), (322, -33.5), (327, -29.5), (327, -27.4),
    (332, -26.4), (332, -31.8), (337, -28.0), (337, -31.0), (342, -30.3), (342, -29.0),
    (347, -26.2), (347, -32.4), (352, -27.8), (352, -30.1), (357, -26.7), (357, -33.5),
    (362, -28.6), (362, -27.4), (367, -27.1), (367, -31.8), (372, -29.5), (372, -31.0),
    (377, -26.4), (377, -29.0), (382, -28.0), (382, -32.4), (387, -30.3), (387, -30.1),
    (392, -26.2), (392, -33.5), (397, -27.8), (397, -27.4), (402, -26.7), (402, -31.8),
    (407, -28.6), (407, -31.0), (412, -27.1), (412, -29.0), (417, -29.5), (417, -32.4),
    (422, -26.4), (422, -30.1), (427, -28.0), (427, -33.5), (432, -30.3), (432, -27.4),
    (437, -26.2), (437, -31.8), (442, -27.8), (442, -31.0), (447, -26.7), (447, -29.0),
    (452, -28.6), (452, -32.4), (457, -27.1), (457, -30.1), (462, -29.5), (462, -33.5),
    (467, -26.4), (467, -27.4), (472, -28.0), (472, -31.8), (477, -30.3), (477, -31.0),
    (482, -26.2), (482, -29.0), (487, -27.8), (487, -32.4), (492, -26.7), (492, -30.1),
    (497, -28.6), (497, -33.5),
]

ww_allowed_dense = [
    (505, -26.1), (512, -27.2), (503, -28.4), (516, -29.5), (508, -30.7), (521, -32.1), (510, -33.6),
    (531, -26.5), (526, -27.8), (538, -28.9), (529, -30.2), (541, -31.4), (534, -32.8), (544, -34.3),
    (556, -26.2), (550, -27.4), (562, -28.6), (553, -29.8), (566, -31.0), (559, -32.3), (569, -33.9),
    (552, -35.2), (582, -26.7), (575, -27.9), (588, -29.2), (578, -30.4), (592, -31.7), (585, -33.1),
    (595, -34.6), (606, -26.0), (600, -27.1), (613, -28.3), (603, -29.5), (617, -30.8), (609, -32.0),
    (620, -33.4), (611, -35.0), (632, -26.4), (625, -27.6), (639, -28.8), (628, -30.0), (643, -31.3),
    (635, -32.6), (646, -34.1), (657, -26.1), (650, -27.3), (664, -28.5), (653, -29.7), (668, -30.9),
    (660, -32.2), (671, -33.7), (662, -35.4), (683, -26.6), (676, -27.8), (690, -29.0), (680, -30.3),
    (694, -31.5), (686, -32.9), (697, -34.4), (707, -26.2), (700, -27.0), (714, -28.2), (704, -29.4),
    (718, -30.6), (710, -31.9), (721, -33.2), (712, -34.8), (733, -26.5), (726, -27.5), (740, -28.7),
    (729, -29.9), (744, -31.2), (736, -32.5), (747, -34.0), (738, -35.3), (758, -26.0), (751, -27.2),
    (765, -28.4), (754, -29.6), (769, -30.8), (761, -32.1), (772, -33.5), (763, -34.9), (783, -26.4),
    (776, -27.7), (790, -28.9), (779, -30.1), (794, -31.4), (786, -32.7), (797, -34.2), (808, -26.1),
    (801, -27.0), (815, -28.1), (804, -29.3), (819, -30.5), (811, -31.7), (822, -33.0), (813, -34.5),
    (833, -26.6), (826, -27.5), (840, -28.6), (829, -29.8), (844, -31.0), (836, -32.3), (847, -33.6),
    (838, -35.1), (858, -26.2), (851, -27.2), (865, -28.3), (854, -29.5), (869, -30.7), (861, -31.9),
    (872, -33.3), (863, -34.7), (883, -26.5), (876, -27.6), (890, -28.8), (879, -30.0), (894, -31.2),
    (886, -32.5), (897, -33.9), (888, -35.3), (908, -26.0), (901, -27.0), (915, -28.0), (904, -29.1),
    (919, -30.3), (911, -31.5), (922, -32.8), (913, -34.3), (933, -26.3), (926, -27.4), (940, -28.5),
    (929, -29.6), (944, -30.8), (936, -32.0), (947, -33.4), (938, -34.9), (958, -26.1), (951, -27.1),
    (965, -28.2), (954, -29.3), (969, -30.5), (961, -31.7), (972, -33.0), (963, -34.5), (956, -35.4),
    (983, -26.4), (976, -27.5), (990, -28.6), (979, -29.8), (994, -31.0), (986, -32.2), (997, -33.6),
    (988, -35.0), (999, -26.2), (1000, -27.3), (998, -28.4), (1000, -29.5), (999, -30.6),
    (1000, -31.8), (998, -33.1), (1000, -34.6),
    (990, -26.8), (995, -27.9), (985, -29.1), (993, -30.2), (980, -31.4), (997, -32.6), (970, -26.6),
    (975, -27.8), (965, -29.0), (960, -30.0), (950, -31.2), (945, -26.8), (925, -28.0), (920, -29.4),
    (900, -31.8), (890, -26.8), (870, -28.0), (860, -29.9), (845, -27.9), (820, -29.0), (800, -31.0),
    (770, -27.4), (745, -30.4), (720, -26.9), (690, -28.3), (660, -30.6), (630, -27.2), (600, -29.0),
    (570, -30.6), (545, -27.1), (520, -29.0), (940, -35.5), (870, -35.6), (780, -35.4), (690, -35.5),
    (502, -26.3), (502, -28.9), (502, -31.2), (507, -27.5), (507, -29.8), (507, -32.5),
    (511, -26.8), (511, -28.3), (511, -30.8), (516, -27.9), (516, -30.2), (516, -33.6),
    (521, -26.1), (521, -29.3), (521, -31.7), (525, -27.2), (525, -28.6), (525, -32.1),
    (530, -26.6), (530, -30.0), (530, -34.4), (534, -27.7), (534, -29.0), (534, -30.6),
    (539, -26.4), (539, -28.1), (539, -31.4), (544, -27.0), (544, -29.6), (544, -33.0),
    (548, -26.9), (548, -30.4), (548, -32.8), (553, -27.4), (553, -28.9), (553, -31.0),
    (557, -26.2), (557, -29.8), (557, -35.1), (562, -26.3), (562, -28.3), (562, -31.9),
    (567, -27.5), (567, -30.2), (567, -33.3), (571, -26.8), (571, -29.3), (571, -30.9),
    (576, -27.9), (576, -28.6), (576, -32.3), (580, -26.1), (580, -30.0), (580, -31.2),
    (585, -27.2), (585, -29.0), (585, -32.5), (590, -26.6), (590, -28.1), (590, -30.8),
    (594, -27.7), (594, -29.6), (594, -33.6), (599, -26.4), (599, -30.4), (599, -31.7),
    (604, -27.0), (604, -28.9), (604, -32.1), (608, -26.9), (608, -29.8), (608, -34.4),
    (613, -27.4), (613, -28.3), (613, -30.6), (617, -26.2), (617, -30.2), (617, -31.4),
    (622, -26.3), (622, -29.3), (622, -33.0), (627, -27.5), (627, -28.6), (627, -32.8),
    (631, -26.8), (631, -30.0), (631, -31.0), (636, -27.9), (636, -29.0), (636, -35.1),
    (640, -26.1), (640, -28.1), (640, -31.9), (645, -27.2), (645, -29.6), (645, -33.3),
    (650, -26.6), (650, -30.4), (650, -30.9), (654, -27.7), (654, -28.9), (654, -32.3),
    (659, -26.4), (659, -29.8), (659, -31.2), (663, -27.0), (663, -28.3), (663, -32.5),
    (668, -26.9), (668, -30.2), (668, -30.8), (673, -27.4), (673, -29.3), (673, -33.6),
    (677, -26.2), (677, -28.6), (677, -31.7), (682, -26.3), (682, -30.0), (682, -32.1),
    (686, -27.5), (686, -29.0), (686, -34.4), (691, -26.8), (691, -28.1), (691, -30.6),
    (696, -27.9), (696, -29.6), (696, -31.4), (700, -26.1), (700, -30.4), (700, -33.0),
    (704, -27.2), (704, -28.9), (704, -32.8), (708, -26.6), (708, -29.8), (708, -31.0),
    (712, -27.7), (712, -28.3), (712, -35.1), (716, -26.4), (716, -30.2), (716, -31.9),
    (720, -27.0), (720, -29.3), (720, -33.3), (724, -26.9), (724, -28.6), (724, -30.9),
    (729, -27.4), (729, -30.0), (729, -32.3), (733, -26.2), (733, -29.0), (733, -31.2),
    (737, -26.3), (737, -28.1), (737, -32.5), (741, -27.5), (741, -29.6), (741, -30.8),
    (746, -26.8), (746, -30.4), (746, -33.6), (750, -27.9), (750, -28.9), (750, -31.7),
    (754, -26.1), (754, -29.8), (754, -32.1), (759, -27.2), (759, -28.3), (759, -34.4),
    (763, -26.6), (763, -30.2), (763, -30.6), (768, -27.7), (768, -29.3), (768, -31.4),
    (772, -26.4), (772, -28.6), (772, -33.0), (777, -27.0), (777, -30.0), (777, -32.8),
    (781, -26.9), (781, -29.0), (781, -31.0), (786, -27.4), (786, -28.1), (786, -35.1),
    (790, -26.2), (790, -29.6), (790, -31.9), (795, -26.3), (795, -30.4), (795, -33.3),
    (799, -27.5), (799, -28.9), (799, -30.9), (804, -26.8), (804, -29.8), (804, -32.3),
    (808, -27.9), (808, -28.3), (808, -31.2), (813, -26.1), (813, -30.2), (813, -32.5),
    (818, -27.2), (818, -29.3), (818, -30.8), (822, -26.6), (822, -28.6), (822, -33.6),
    (827, -27.7), (827, -30.0), (827, -31.7), (832, -26.4), (832, -29.0), (832, -32.1),
    (836, -27.0), (836, -28.1), (836, -34.4), (841, -26.9), (841, -29.6), (841, -30.6),
    (846, -27.4), (846, -30.4), (846, -31.4), (850, -26.2), (850, -28.9), (850, -33.0),
    (855, -26.3), (855, -29.8), (855, -32.8), (860, -27.5), (860, -28.3), (860, -31.0),
    (864, -26.8), (864, -30.2), (864, -35.1), (869, -27.9), (869, -29.3), (869, -31.9),
    (874, -26.1), (874, -28.6), (874, -33.3), (879, -27.2), (879, -30.0), (879, -30.9),
    (883, -26.6), (883, -29.0), (883, -32.3), (888, -27.7), (888, -28.1), (888, -31.2),
    (893, -26.4), (893, -29.6), (893, -32.5), (898, -27.0), (898, -30.4), (898, -30.8),
    (902, -26.9), (902, -28.9), (902, -33.6), (907, -27.4), (907, -29.8), (907, -31.7),
    (912, -26.2), (912, -28.3), (912, -32.1), (917, -26.3), (917, -30.2), (917, -34.4),
    (922, -27.5), (922, -29.3), (922, -30.6), (927, -26.8), (927, -28.6), (927, -31.4),
    (931, -27.9), (931, -30.0), (931, -33.0), (936, -26.1), (936, -29.0), (936, -32.8),
    (941, -27.2), (941, -28.1), (941, -31.0), (946, -26.6), (946, -29.6), (946, -35.1),
    (950, -27.7), (950, -30.4), (950, -31.9), (955, -26.4), (955, -28.9), (955, -33.3),
    (960, -27.0), (960, -29.8), (960, -30.9), (964, -26.9), (964, -28.3), (964, -32.3),
    (969, -27.4), (969, -30.2), (969, -31.2), (973, -26.2), (973, -29.3), (973, -32.5),
    (978, -26.3), (978, -28.6), (978, -30.8), (982, -27.5), (982, -30.0), (982, -33.6),
    (987, -26.8), (987, -29.0), (987, -31.7), (991, -27.9), (991, -28.1), (991, -32.1),
    (995, -26.2), (995, -29.6), (995, -34.4), (999, -27.2), (999, -30.4), (999, -30.6),
    (602, -26.05), (602, -28.75), (602, -31.15), (607, -26.45), (607, -29.15), (607, -31.55),
    (611, -26.85), (611, -29.55), (611, -30.55), (616, -27.25), (616, -29.95), (616, -31.95),
    (620, -27.65), (620, -30.35), (620, -30.95), (625, -28.05), (625, -30.75), (625, -32.35),
    (629, -28.45), (629, -28.55), (629, -31.35), (634, -26.25), (634, -28.95), (634, -31.15),
    (638, -26.65), (638, -29.35), (638, -31.55), (643, -27.05), (643, -29.75), (643, -30.55),
    (648, -27.45), (648, -30.15), (648, -31.95), (652, -27.85), (652, -28.75), (652, -30.95),
    (657, -26.35), (657, -29.15), (657, -32.35), (661, -26.05), (661, -29.55), (661, -31.35),
    (666, -26.45), (666, -29.95), (666, -31.15), (671, -26.85), (671, -30.35), (671, -31.55),
    (675, -27.25), (675, -30.75), (675, -30.55), (680, -27.65), (680, -28.55), (680, -31.95),
    (684, -28.05), (684, -28.95), (684, -30.95), (689, -28.45), (689, -29.35), (689, -32.35),
    (694, -26.25), (694, -29.75), (694, -31.35), (698, -26.65), (698, -30.15), (698, -31.15),
    (703, -27.05), (703, -28.75), (703, -31.55), (707, -27.45), (707, -29.15), (707, -30.55),
    (712, -27.85), (712, -29.55), (712, -31.95), (717, -26.35), (717, -29.95), (717, -30.95),
    (721, -26.05), (721, -30.35), (721, -32.35), (726, -26.45), (726, -30.75), (726, -31.35),
    (731, -26.85), (731, -28.55), (731, -31.15), (735, -27.25), (735, -28.95), (735, -31.55),
    (740, -27.65), (740, -29.35), (740, -30.55), (744, -28.05), (744, -29.75), (744, -31.95),
    (749, -28.45), (749, -30.15), (749, -30.95), (754, -26.25), (754, -28.75), (754, -32.35),
    (758, -26.65), (758, -29.15), (758, -31.35), (763, -27.05), (763, -29.55), (763, -31.15),
    (768, -27.45), (768, -29.95), (768, -31.55), (772, -27.85), (772, -30.35), (772, -30.55),
    (777, -26.35), (777, -30.75), (777, -31.95), (782, -26.05), (782, -28.55), (782, -30.95),
    (786, -26.45), (786, -28.95), (786, -32.35), (791, -26.85), (791, -29.35), (791, -31.35),
    (796, -27.25), (796, -29.75), (796, -31.15), (800, -27.65), (800, -30.15), (800, -31.55),
    (805, -28.05), (805, -28.75), (805, -30.55), (810, -28.45), (810, -29.15), (810, -31.95),
    (814, -26.25), (814, -29.55), (814, -30.95), (819, -26.65), (819, -29.95), (819, -32.35),
    (824, -27.05), (824, -30.35), (824, -31.35), (828, -27.45), (828, -30.75), (828, -31.15),
    (833, -27.85), (833, -28.55), (833, -31.55), (838, -26.35), (838, -28.95), (838, -30.55),
    (842, -26.05), (842, -29.35), (842, -31.95), (847, -26.45), (847, -29.75), (847, -30.95),
    (852, -26.85), (852, -30.15), (852, -32.35), (856, -27.25), (856, -28.75), (856, -31.35),
    (861, -27.65), (861, -29.15), (861, -31.15), (866, -28.05), (866, -29.55), (866, -31.55),
    (870, -28.45), (870, -29.95), (870, -30.55), (875, -26.25), (875, -30.35), (875, -31.95),
    (880, -26.65), (880, -30.75), (880, -30.95), (884, -27.05), (884, -28.55), (884, -32.35),
    (889, -27.45), (889, -28.95), (889, -31.35), (894, -27.85), (894, -29.35), (894, -31.15),
    (898, -26.35), (898, -29.75), (898, -31.55), (903, -26.05), (903, -30.15), (903, -30.55),
    (908, -26.45), (908, -28.75), (908, -31.95), (912, -26.85), (912, -29.15), (912, -30.95),
    (917, -27.25), (917, -29.55), (917, -32.35), (922, -27.65), (922, -29.95), (922, -31.35),
    (926, -28.05), (926, -30.35), (926, -31.15), (931, -28.45), (931, -30.75), (931, -31.55),
    (936, -26.25), (936, -28.55), (936, -30.55), (940, -26.65), (940, -28.95), (940, -31.95),
    (945, -27.05), (945, -29.35), (945, -30.95), (950, -27.45), (950, -29.75), (950, -32.35),
    (954, -27.85), (954, -30.15), (954, -31.35), (959, -26.35), (959, -28.75), (959, -31.15),
    (964, -26.05), (964, -29.15), (964, -31.55), (968, -26.45), (968, -29.55), (968, -30.55),
    (973, -26.85), (973, -29.95), (973, -31.95), (978, -27.25), (978, -30.35), (978, -30.95),
    (982, -27.65), (982, -30.75), (982, -32.35), (987, -28.05), (987, -28.55), (987, -31.35),
    (992, -28.45), (992, -28.95), (992, -31.15), (996, -26.25), (996, -29.35), (996, -31.55),
]

fig = plt.figure(figsize=(6.32, 12.14), dpi=100)
ax1 = fig.add_axes([0.1535, 0.7249, 0.799, 0.2652])
ax2 = fig.add_axes([0.1535, 0.3847, 0.799, 0.2652])
ax3 = fig.add_axes([0.1535, 0.0439, 0.799, 0.2656])


def draw_panel(ax, fermi_m, fermi_e, allowed, rejected, xlim, ylim, xmajor, xminor, ymajor):
    a = np.array(allowed)
    r = np.array(rejected)
    ax.scatter(a[:, 0], 10.0 ** a[:, 1], s=6.0, c=GREEN, linewidths=0, zorder=2)
    ax.scatter(r[:, 0], 10.0 ** r[:, 1], s=6.0, c=RED, linewidths=0, zorder=3)
    ax.plot(fermi_m, 10.0 ** np.array(fermi_e), color='black', lw=1.6, zorder=4)

    ax.set_xscale('log')
    ax.set_yscale('log')
    ax.set_xlim(*xlim)
    ax.set_ylim(10.0 ** ylim[0], 10.0 ** ylim[1])

    ax.set_xticks(xmajor)
    ax.set_xticklabels([str(v) for v in xmajor])
    ax.set_xticks(xminor, minor=True)
    ax.xaxis.set_minor_formatter(NullFormatter())

    ydec = list(range(int(np.ceil(ylim[0])), int(np.floor(ylim[1])) + 1))
    ax.set_yticks([10.0 ** e for e in ymajor])
    ax.set_yticklabels([r'$10^{%d}$' % e for e in ymajor])
    ax.set_yticks([10.0 ** e for e in ydec if e not in ymajor], minor=True)
    ax.yaxis.set_minor_formatter(NullFormatter())

    ax.tick_params(which='both', direction='in', top=True, right=True, labelsize=15,
                   color='#333333')
    ax.tick_params(axis='x', which='major', length=4.5, pad=4)
    ax.tick_params(axis='x', which='minor', length=2.2)
    ax.tick_params(axis='y', which='both', length=3.8, pad=3)
    for sp in ax.spines.values():
        sp.set_color('#333333')
        sp.set_linewidth(0.9)

    ax.set_xlabel(r'$m_S$ [GeV]', fontsize=16, labelpad=2)
    ax.set_ylabel(r'$\sigma_{\mathrm{IDV}}$  [cm$^3\, s^{-1}$]', fontsize=16, labelpad=3)

    handles = [
        Line2D([], [], marker='s', ls='none', ms=7.5, mfc=RED, mec='#b00000', mew=0.8),
        Line2D([], [], marker='s', ls='none', ms=7.5, mfc=GREEN, mec='#0b6e0b', mew=0.8),
        Line2D([], [], marker='s', ls='none', ms=7.5, mfc='black', mec='black', mew=0.8),
    ]
    ax.legend(handles, ['Rejected', 'Allowed', 'Fermi\u2212LAT Limit'], loc='lower left',
              bbox_to_anchor=(-0.006, 0.045), frameon=False, fontsize=16, handlelength=0.7,
              handletextpad=0.35, labelspacing=0.38, borderaxespad=0.3, borderpad=0.2)


draw_panel(ax1, bb_fermi_m, bb_fermi_e, bb_allowed + bb_allowed_wedge, bb_rejected,
           (3.44, 1121), (-38.67, -23.88),
           [5, 10, 50, 100, 500, 1000],
           [4, 6, 7, 8, 9, 20, 30, 40, 60, 70, 80, 90, 200, 300, 400, 600, 700, 800, 900],
           [-35, -31, -27])
draw_panel(ax2, tt_fermi_m, tt_fermi_e, tt_allowed + tt_allowed_wedge, tt_rejected,
           (1.32, 1148), (-40.03, -23.42),
           [5, 10, 50, 100, 500, 1000],
           [2, 3, 4, 6, 7, 8, 9, 20, 30, 40, 60, 70, 80, 90, 200, 300, 400, 600, 700, 800, 900],
           [-38, -35, -32, -29, -26])
draw_panel(ax3, ww_fermi_m, ww_fermi_e, ww_allowed + ww_allowed_dense, ww_rejected,
           (68.1, 1054), (-36.95, -22.21),
           [100, 200, 500, 1000],
           [70, 80, 90, 300, 400, 600, 700, 800, 900],
           [-33, -29, -25])

ax1.text(0.072, 0.89, r'$\mathbfit{b}\,\overline{\mathbfit{b}}$', transform=ax1.transAxes,
         math_fontfamily='dejavusans', fontsize=15, va='center', ha='left')
ax2.text(0.058, 0.90, 'τ⁻ τ⁺', transform=ax2.transAxes, family='DejaVu Sans',
         fontweight='bold', style='italic', fontsize=15, va='center', ha='left')
ax3.text(0.03, 0.91, 'W⁺W⁻', transform=ax3.transAxes, family='DejaVu Sans',
         fontweight='bold', style='italic', fontsize=15, va='center', ha='left')

fig.savefig('out.png', dpi=100)
